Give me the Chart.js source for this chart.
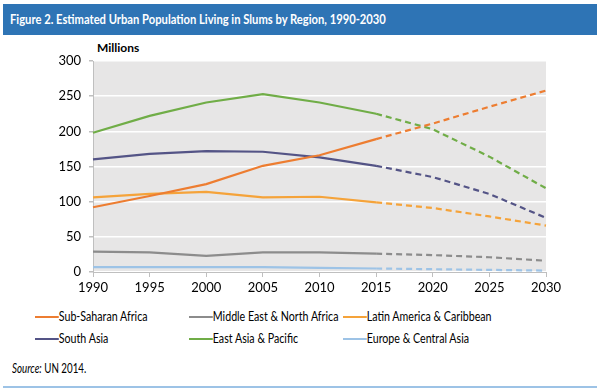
<!DOCTYPE html>
<html>
<head>
<meta charset="utf-8">
<script src="https://cdn.jsdelivr.net/npm/chart.js@4.4.1/dist/chart.umd.min.js"></script>
<style>
  body { margin: 0; background: #fff; font-family: Lato, "Noto Sans", sans-serif; }
  #wrap { position: relative; width: 602px; height: 392px; overflow: hidden; }
  #header { position: absolute; left: 3px; top: 4px; width: 594px; height: 31px; background: #2e74b5; }
  #header span { position: absolute; left: 7px; top: 7px; color: #fff; font-weight: bold; font-size: 13.5px;
                 transform: scaleX(0.83); transform-origin: left center; white-space: nowrap; }
  #unit { position: absolute; left: 97px; top: 40px; font-weight: bold; font-size: 12px; color: #000; }
  #chartBox { position: absolute; left: 0; top: 0; width: 602px; height: 300px; }
  #legend { position: absolute; left: 0; top: 308px; width: 602px; height: 44px; }
  .item { position: absolute; font-size: 13px; color: #000; white-space: nowrap;
          transform: scaleX(0.82); transform-origin: left center; }
  .item i { display: inline-block; width: 29px; height: 2px; vertical-align: middle; position: relative; top: -1px; }
  #source { position: absolute; left: 12px; top: 361px; font-size: 12.5px; color: #000; white-space: nowrap;
            transform: scaleX(0.78); transform-origin: left center; }
  #rule { position: absolute; left: 3px; top: 386px; width: 594px; height: 2px; background: #9dc3e6; }
</style>
</head>
<body>
<div id="wrap">
  <div id="header"><span>Figure 2. Estimated Urban Population Living in Slums by Region, 1990-2030</span></div>
  <div id="unit">Millions</div>
  <div id="chartBox"><canvas id="lineChart" width="602" height="300"></canvas></div>
  <div id="legend"></div>
  <div id="source"><i>Source:</i> UN 2014.</div>
  <div id="rule"></div>
</div>
<script>
const years = ["1990", "1995", "2000", "2005", "2010", "2015", "2020", "2025", "2030"];
const regions = ["Sub-Saharan Africa", "Middle East & North Africa", "Latin America & Caribbean",
                 "South Asia", "East Asia & Pacific", "Europe & Central Asia"];
const subSaharan = [92, 108, 125, 151, 166, 189, 211, 235, 258];
const middleEast = [29, 28, 23, 28, 28, 26, 24, 21, 16];
const latinAmerica = [106, 111, 114, 106, 107, 99, 91, 79, 66];
const southAsia = [160, 168, 172, 171, 163, 151, 135, 111, 77];
const eastAsia = [198, 222, 241, 253, 241, 225, 203, 164, 119];
const europeAsia = [7, 7, 7, 7, 6, 5, 4, 3, 2];
const colors = ["#ed7d31", "#8c8c8c", "#f5a33a", "#545486", "#70ad47", "#9dc3e6"];
const lastActual = 5; // projections after 2015 are dashed

const seriesValues = [subSaharan, middleEast, latinAmerica, southAsia, eastAsia, europeAsia];

const plotBackground = {
  id: "plotBackground",
  beforeDraw(chart) {
    const a = chart.chartArea;
    const ctx = chart.ctx;
    ctx.save();
    ctx.fillStyle = "#e7e6e6";
    ctx.fillRect(a.left, a.top, a.right - a.left, a.bottom - a.top);
    ctx.restore();
  }
};

const datasets = regions.map(function (name, i) {
  return {
    label: name,
    data: seriesValues[i],
    borderColor: colors[i],
    backgroundColor: colors[i],
    borderWidth: 2.2,
    pointRadius: 0,
    tension: 0,
    segment: {
      borderDash: function (ctx) { return ctx.p0DataIndex >= lastActual ? [6, 4] : undefined; }
    }
  };
});

const ctxLine = document.getElementById("lineChart").getContext("2d");
const lineChart = new Chart(ctxLine, {
  type: "line",
  data: { labels: years, datasets: datasets },
  options: {
    responsive: false,
    animation: false,
    layout: { padding: { top: 61, right: 56, left: 0, bottom: 0 } },
    plugins: { legend: { display: false }, tooltip: { enabled: false } },
    scales: {
      x: {
        offset: false,
        grid: { drawOnChartArea: false, color: "#bfbfbf", tickLength: 5 },
        border: { color: "#bfbfbf" },
        ticks: { color: "#000", font: { family: "Lato", size: 13 }, padding: 3, maxRotation: 0 },
        afterFit: function (scale) { scale.height = 28; }
      },
      y: {
        min: 0,
        max: 300,
        ticks: { stepSize: 50, color: "#000", font: { family: "Lato", size: 13 }, padding: 8 },
        grid: { color: "#ffffff", lineWidth: 1.5, tickColor: "#bfbfbf", tickLength: 4 },
        border: { color: "#bfbfbf" },
        afterFit: function (scale) { scale.width = 93; }
      }
    }
  },
  plugins: [plotBackground]
});

// legend laid out in three columns like the original
const legendBox = document.getElementById("legend");
const colX = [35, 189, 343];
regions.forEach(function (name, i) {
  const el = document.createElement("div");
  el.className = "item";
  el.style.left = colX[i % 3] + "px";
  el.style.top = (Math.floor(i / 3) * 22) + "px";
  el.innerHTML = '<i style="background:' + colors[i] + '"></i>' + name;
  legendBox.appendChild(el);
});
</script>
</body>
</html>
